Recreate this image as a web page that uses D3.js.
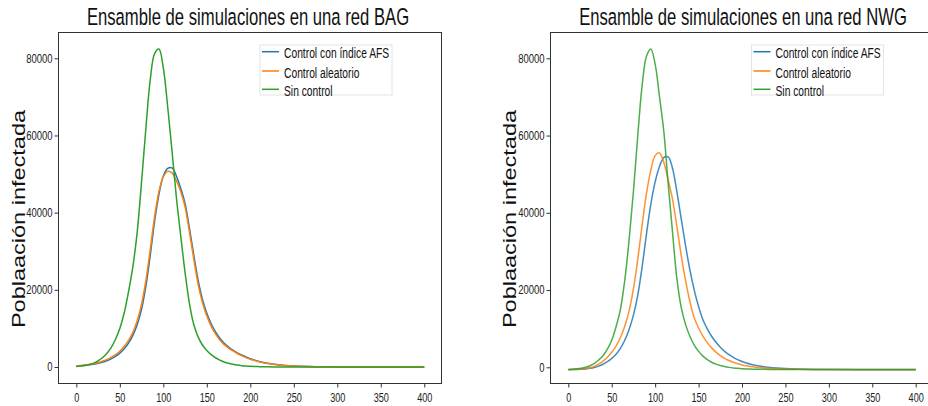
<!DOCTYPE html>
<html><head><meta charset="utf-8">
<script src="https://cdn.jsdelivr.net/npm/d3@7"></script>
<style>body{margin:0;background:#fff} svg{display:block;font-family:"Liberation Sans",Arial,sans-serif}</style>
</head><body><svg id="c" width="928" height="406"></svg>
<script>
const days = [0,5,10,15,20,25,30,35,40,45,50,55,60,65,70,75,80,85,90,95,100,105,110,115,120,125,130,135,140,145,150,155,160,165,170,175,180,185,190,195,200,205,210,215,220,230,240,250,275,300,350,400];

const bagAFS = [260,340,440,570,740,960,1250,1620,2100,2750,3600,4700,6200,8200,11000,15000,21000,29000,37800,44800,49500,51500,51600,49500,46300,42300,36000,29000,22500,17500,13900,11200,9100,7450,6150,5150,4350,3700,3100,2600,2150,1780,1450,1180,970,630,400,260,90,30,0,0];
const bagRandom = [300,390,510,670,870,1130,1480,1920,2500,3200,4100,5300,6900,9000,12000,16300,22500,30500,39000,45500,49300,50700,50300,48300,45500,41500,35000,28000,21500,16700,13200,10600,8600,7000,5800,4900,4150,3500,2950,2450,2000,1650,1350,1100,900,580,370,240,80,25,0,0];
const bagNone = [150,250,400,650,1000,1600,2400,3500,5000,7200,10000,14000,19500,26000,35000,48000,62000,74500,81200,82400,77500,67500,56000,44000,34000,24500,16500,11000,7800,5700,4300,3200,2400,1800,1300,950,700,500,350,250,180,130,90,60,45,25,15,10,5,0,0,0];

const nwgAFS = [-620,-600,-560,-500,-410,-270,-50,300,800,1450,2300,3400,4900,7000,9800,13500,18700,26000,34500,42200,48000,52000,54300,54500,51500,45500,38500,31500,25200,20000,15700,12300,9960,8040,6470,5180,4130,3270,2570,1990,1520,1130,810,550,340,25,-190,-330,-515,-580,-615,-620];
const nwgRandom = [-600,-560,-500,-420,-300,-100,250,800,1600,2600,3900,5500,7700,10600,14600,20300,28000,36800,45000,51000,54800,55500,53000,48500,43500,36500,29000,22500,17000,12800,10180,8080,6380,5030,3930,3040,2330,1750,1290,920,620,380,180,30,-80,-260,-380,-460,-555,-585,-600,-600];
const nwgNone = [-550,-480,-400,-250,0,400,1000,1900,3000,4700,7000,10500,15000,22500,33000,45500,60000,73000,80500,82400,78500,70000,61000,47500,35000,23000,15500,11120,8020,5770,4120,2890,1980,1310,820,450,180,-20,-165,-275,-355,-415,-460,-490,-515,-545,-560,-570,-580,-580,-580,-580];

const seriesNames = ["Control con índice AFS", "Control aleatorio", "Sin control"];
const colors = ["#1f77b4", "#ff7f0e", "#2ca02c"];
const xTicks = [0,50,100,150,200,250,300,350,400];
const yTicks = [0,20000,40000,60000,80000];
const titles = ["Ensamble de simulaciones en una red BAG", "Ensamble de simulaciones en una red NWG"];
const yLabel = "Poblaación infectada";

const panels = [
  {title: titles[0], data: [bagAFS, bagRandom, bagNone], left: 58.5, right: 441.5, yDom: [-4276, 86684], titleX: 248, yLabX: 25, legX: 260, opacity: 1},
  {title: titles[1], data: [nwgAFS, nwgRandom, nwgNone], left: 550.5, right: 932.9, yDom: [-4194, 86680], titleX: 743, yLabX: 516, legX: 751.5, opacity: 0.85}
];
const plotTop = 32.5, plotBottom = 383.5;
const svg = d3.select("#c");

panels.forEach(p => {
  const x = d3.scaleLinear().domain([-20.5, 419.8]).range([p.left, p.right]);
  const y = d3.scaleLinear().domain(p.yDom).range([plotBottom, plotTop]);
  const g = svg.append("g");

  const line = d3.line().x((d, i) => x(days[i])).y(d => y(d)).curve(d3.curveCatmullRom.alpha(0.5));
  p.data.forEach((s, k) => {
    g.append("path").attr("d", line(s)).attr("fill", "none")
      .attr("stroke", colors[k]).attr("stroke-width", 1.5).attr("stroke-opacity", p.opacity);
  });

  g.append("rect").attr("x", p.left).attr("y", plotTop).attr("width", p.right - p.left).attr("height", plotBottom - plotTop)
    .attr("fill", "none").attr("stroke", "#333").attr("stroke-width", 1);

  const kx = 0.76;
  const xa = g.append("g").attr("transform", `translate(0,${plotBottom})`)
    .call(d3.axisBottom(x).tickValues(xTicks).tickSize(4).tickPadding(6).tickSizeOuter(0));
  xa.select(".domain").remove();
  xa.selectAll("line").attr("stroke", "#333");
  xa.selectAll("text").attr("font-size", 12).attr("fill", "#222").attr("font-family", "Liberation Sans, Arial, sans-serif")
    .attr("transform", `scale(${kx},1)`);

  const ky = 0.79;
  const ya = g.append("g").attr("transform", `translate(${p.left},0)`)
    .call(d3.axisLeft(y).tickValues(yTicks).tickFormat(d3.format("d")).tickSize(4).tickPadding(2).tickSizeOuter(0));
  ya.select(".domain").remove();
  ya.selectAll("line").attr("stroke", "#333");
  ya.selectAll("text").attr("font-size", 12).attr("fill", "#222").attr("font-family", "Liberation Sans, Arial, sans-serif")
    .attr("x", -6 / ky).attr("transform", `scale(${ky},1)`);

  svg.append("text").attr("transform", `translate(${p.titleX},24.5) scale(0.715,1)`)
    .attr("text-anchor", "middle").attr("font-size", 23.3).attr("fill", "#111").text(p.title);

  svg.append("text").attr("transform", `translate(${p.yLabX},219) scale(0.75,1) rotate(-90)`)
    .attr("text-anchor", "middle").attr("font-size", 23.5).attr("fill", "#111").text(yLabel);

  const lg = svg.append("g");
  lg.append("rect").attr("x", p.legX).attr("y", 45).attr("width", 132).attr("height", 50)
    .attr("fill", "#fff").attr("fill-opacity", 0.8).attr("stroke", "#ddd").attr("stroke-width", 0.8);
  const rows = [51.7, 71, 89.3];
  seriesNames.forEach((n, k) => {
    lg.append("line").attr("x1", p.legX + 2).attr("x2", p.legX + 19).attr("y1", rows[k]).attr("y2", rows[k])
      .attr("stroke", colors[k]).attr("stroke-width", 1.5);
    lg.append("text").attr("transform", `translate(${p.legX + 24},${rows[k] + 1.5}) scale(0.71,1)`)
      .attr("dy", "0.35em").attr("font-size", 14.5).attr("fill", "#111").text(n);
  });
});
</script>
</body></html>
